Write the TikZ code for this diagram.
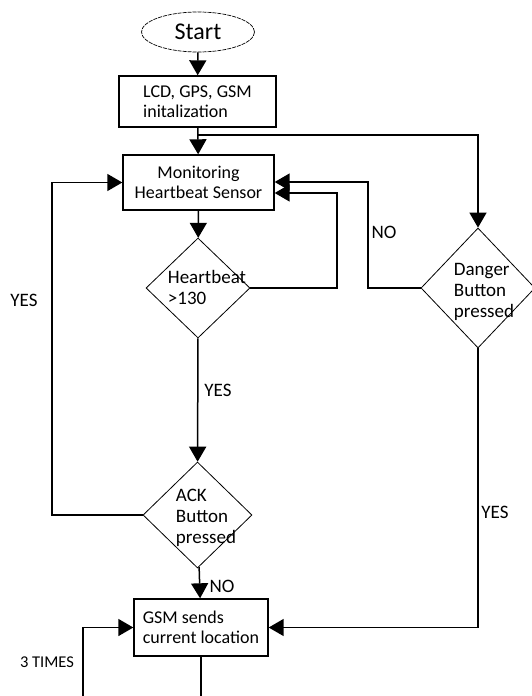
\documentclass[tikz,border=0pt]{standalone}
\usepackage{fontspec}
\setmainfont{Carlito}
\usetikzlibrary{arrows.meta,positioning,shapes.geometric}

\begin{document}
\begin{tikzpicture}[x=1pt, y=-1pt, every node/.style={font=\fontsize{18}{20}\selectfont},
    box/.style={draw, line width=1.4pt, inner sep=0pt},
    dec/.style={draw, diamond, line width=0.8pt, inner sep=0pt},
    dtext/.style={align=left, inner sep=0pt, font=\fontsize{19}{21}\selectfont},
    lbl/.style={inner sep=0pt, font=\fontsize{19}{20}\selectfont},
    arr/.style={-{Triangle[length=15pt,width=17pt]}, line width=1.5pt}]
        \useasboundingbox (0,0) rectangle (531,696);
        \node[draw, ellipse, dash pattern=on 4pt off 1pt, line width=0.7pt, minimum width=113, minimum height=40, inner sep=0pt,
              font=\fontsize{24}{26}\selectfont] (start) at (198,32) {Start};
        \node[box, minimum width=157, minimum height=51, align=left] (init) at (197.5,101.5) {LCD, GPS, GSM\\initalization};
        \node[box, minimum width=151, minimum height=55, align=center] (mon) at (198.5,182.5) {Monitoring\\Heartbeat Sensor};
        \node[dec, minimum width=104, minimum height=100] (hb) at (198,288) {};
        \node[dtext] (hbt) at (207,287) {Heartbeat\\>130};
        \node[dec, minimum width=114, minimum height=120] (danger) at (478,288) {};
        \node[dtext] (dgt) at (484,292) {Danger\\Button\\pressed};
        \node[dec, minimum width=109, minimum height=106] (ack) at (197.5,515) {};
        \node[dtext] (ackt) at (206,518) {ACK\\Button\\pressed};
        \node[box, minimum width=134, minimum height=57, align=left] (gsm) at (201,627.5) {GSM sends\\current location};
        \coordinate (br) at (197.5,135);
        \coordinate (hbr) at (337,193);
        \coordinate (dgl) at (368,182);
        \coordinate (ackl) at (52,515);
        \coordinate (gsmout) at (201,700);
        \coordinate (loopin) at (83,700);
        \draw[arr] (start) -- (init);
        \draw[arr] (init) -- (mon);
        \draw[arr] (br) -| (danger.north);
        \draw[arr] (mon) -- (hb);
        \draw[arr] (hb.east) -| (hbr) -- (mon.east |- hbr);
        \draw[arr] (danger.west) -| (dgl) -- (mon.east |- dgl);
        \draw[arr] (hb) -- (ack);
        \draw[arr] (ack.west) -- (ackl) |- (mon.west);
        \draw[arr] (ack) -- (gsm);
        \draw[arr] (danger.south) |- (gsm.east);
        \draw[line width=1.5pt] (gsm.south) -- (gsmout);
        \draw[arr] (loopin) |- (gsm.west);
        \node[lbl] (no1) at (384,232) {NO};
        \node[lbl] (yes1) at (218,390) {YES};
        \node[lbl] (yes2) at (24,300) {YES};
        \node[lbl] (yes3) at (495,512) {YES};
        \node[lbl] (no2) at (222,586) {NO};
        \node[lbl, font=\fontsize{16.5}{18}\selectfont] (times) at (47,662) {3 TIMES};
      \end{tikzpicture}
\end{document}
